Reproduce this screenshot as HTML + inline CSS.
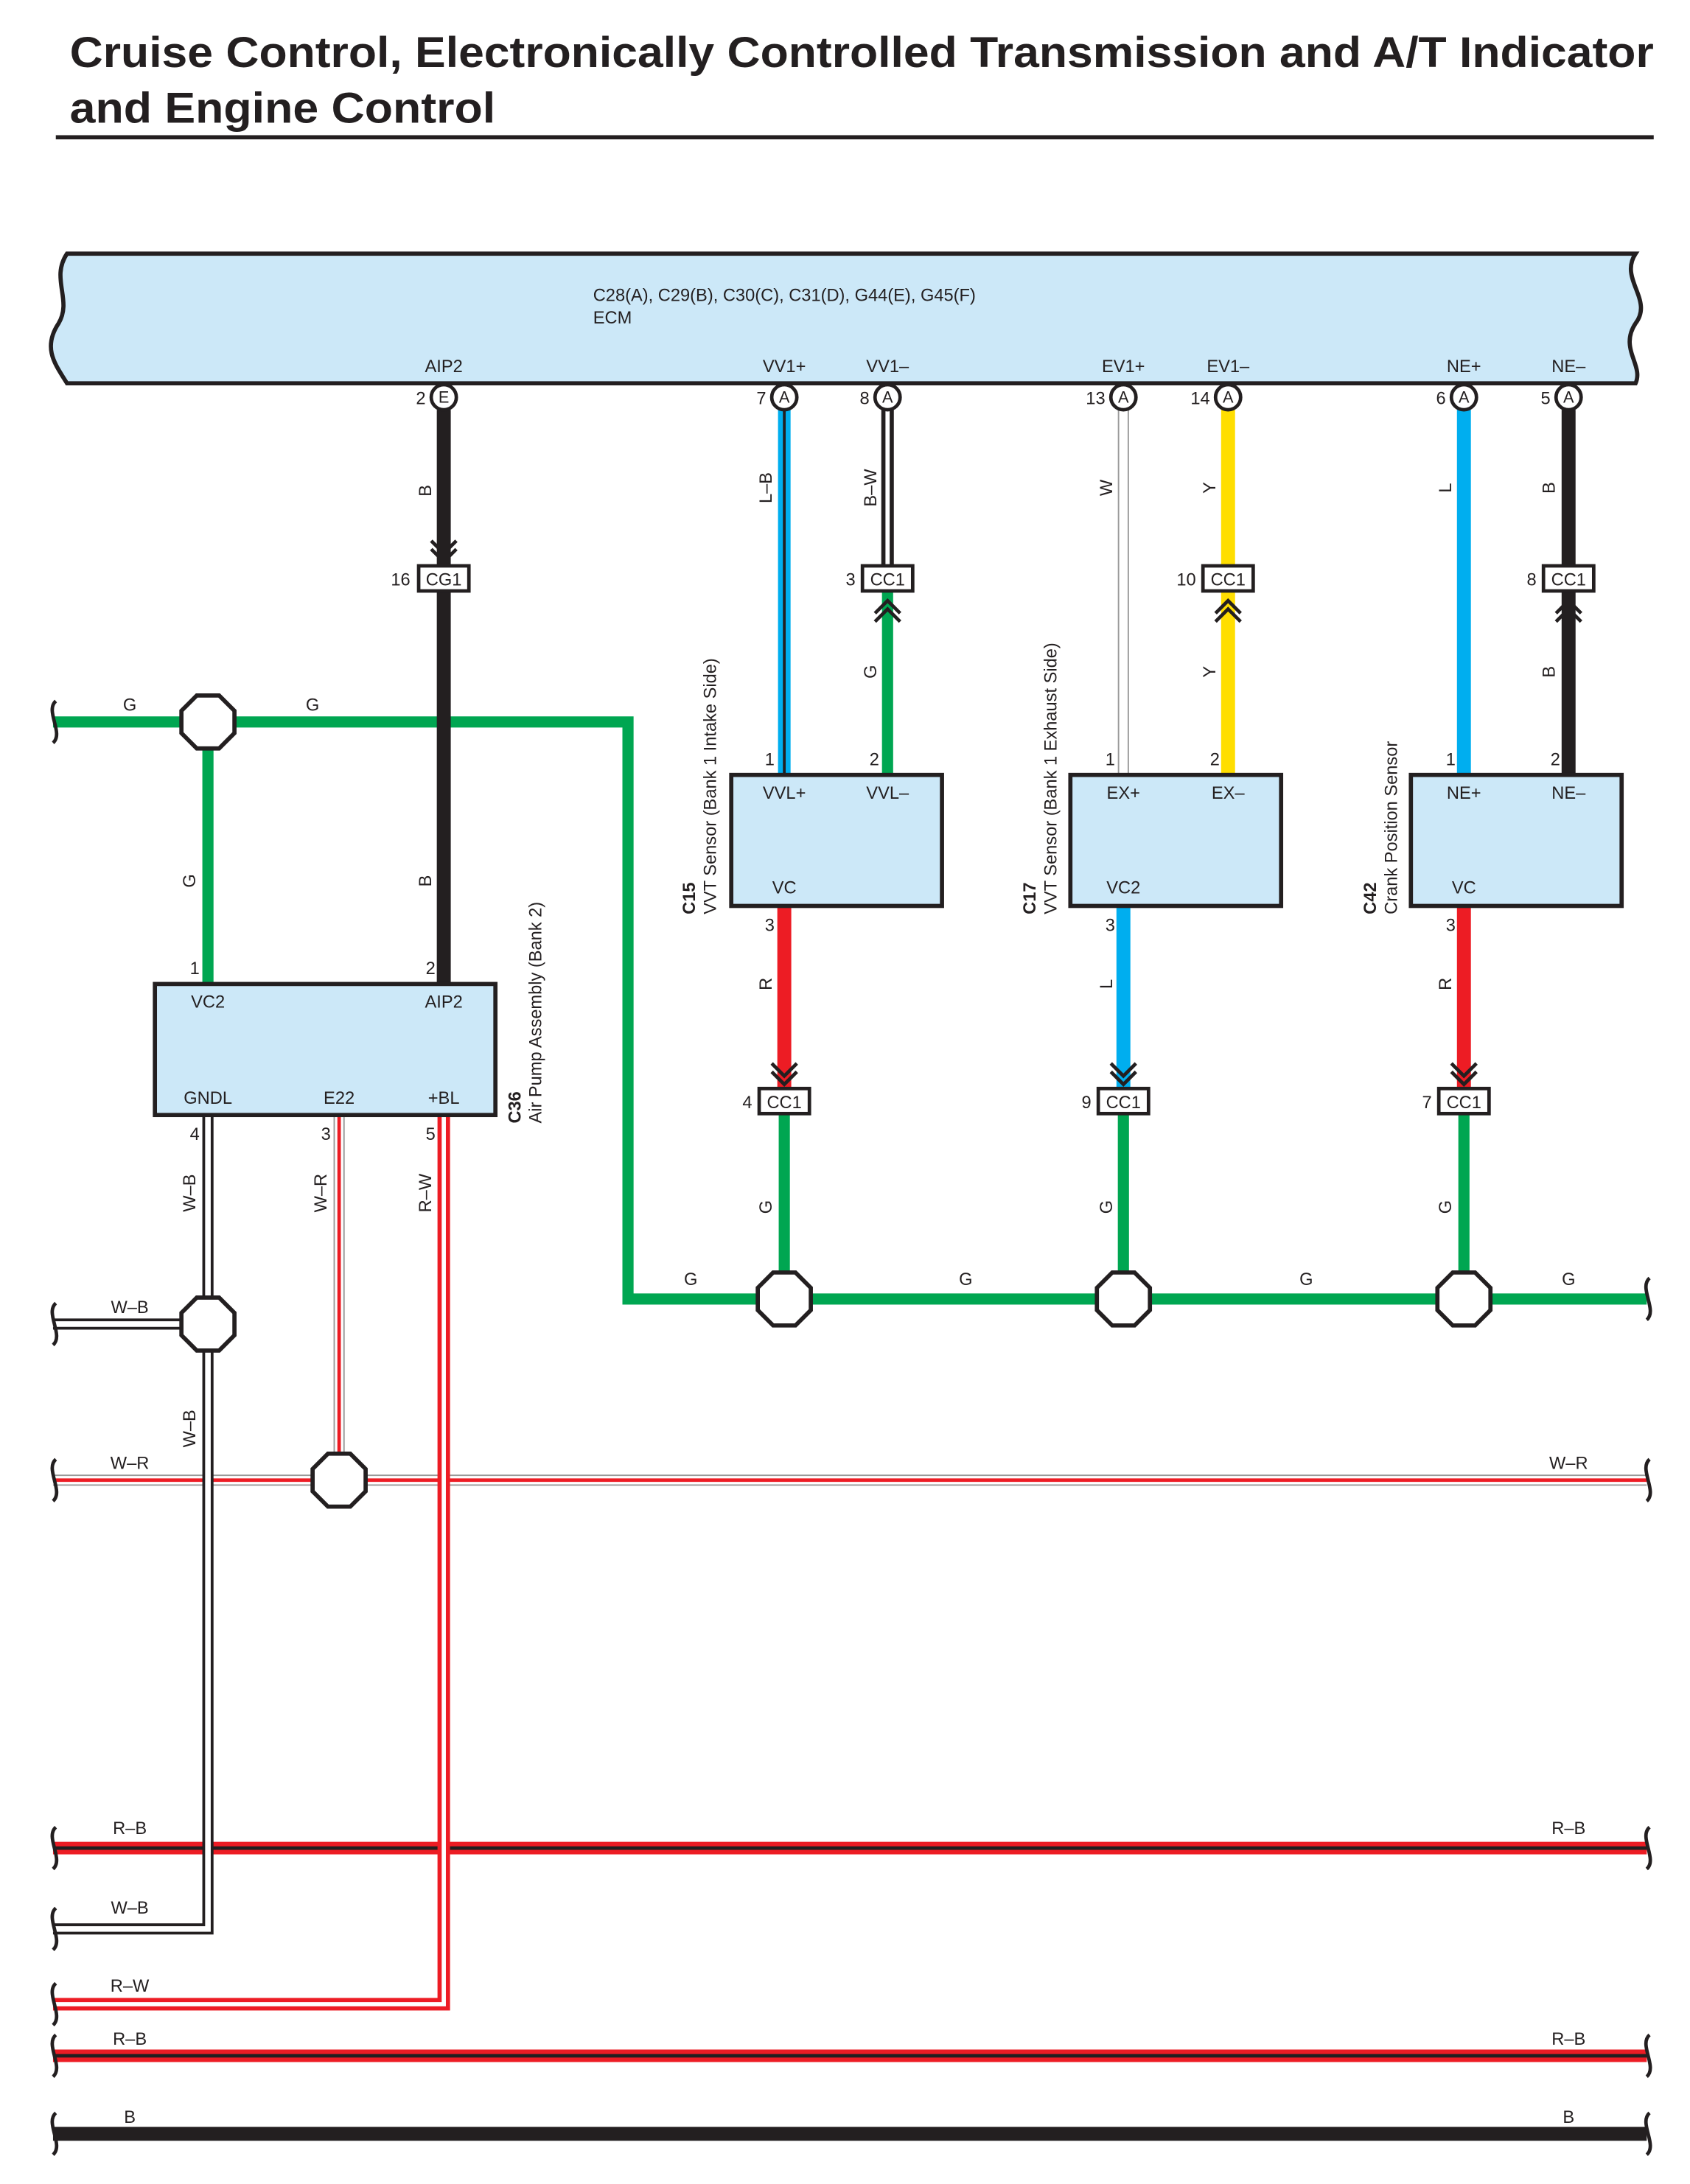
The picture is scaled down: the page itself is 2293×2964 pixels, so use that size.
<!DOCTYPE html>
<html><head><meta charset="utf-8"><style>
html,body{margin:0;padding:0;background:#fff}
svg{display:block}
text{font-family:"Liberation Sans",Arial,sans-serif;fill:#231f20}
.t{font-size:12.5px}
.s{font-size:11.5px}
</style></head><body>
<svg width="2293" height="2964" viewBox="0 0 1211 1567" preserveAspectRatio="none" xmlns="http://www.w3.org/2000/svg">
<defs>
<g id="oct"><polygon points="-8,-19 8,-19 19,-8 19,8 8,19 -8,19 -19,8 -19,-8" fill="#fff" stroke="#231f20" stroke-width="3"/></g>
<g id="pin"><circle r="9" fill="#fff" stroke="#231f20" stroke-width="2.5"/></g>
</defs>
<text x="50" y="48" textLength="1135" lengthAdjust="spacingAndGlyphs" style="font-size:31px;font-weight:bold">Cruise Control, Electronically Controlled Transmission and A/T Indicator</text>
<text x="50" y="88" textLength="305" lengthAdjust="spacingAndGlyphs" style="font-size:31px;font-weight:bold">and Engine Control</text>
<rect x="40" y="97" width="1145" height="3" fill="#231f20"/>

<path d="M48,182 L1172,182 C1160,200 1185,215 1172,232 C1160,250 1178,262 1172,275 L48,275 C40,262 30,250 42,232 C52,215 36,200 48,182 Z" fill="#cce8f8" stroke="#231f20" stroke-width="3"/>
<text x="425" y="216" class="t">C28(A), C29(B), C30(C), C31(D), G44(E), G45(F)</text>
<text x="425" y="232" class="t">ECM</text>
<g class="t" text-anchor="middle">
<text x="318" y="267">AIP2</text><text x="562" y="267">VV1+</text><text x="636" y="267">VV1–</text>
<text x="805" y="267">EV1+</text><text x="880" y="267">EV1–</text><text x="1049" y="267">NE+</text><text x="1124" y="267">NE–</text>
</g>

<g stroke="#00a651" stroke-width="8" fill="none">
<polyline points="38,518 450,518 450,932 1180,932"/>
<line x1="149" y1="518" x2="149" y2="706"/>
<line x1="636" y1="424" x2="636" y2="556"/>
<line x1="562" y1="800" x2="562" y2="932"/>
<line x1="805" y1="800" x2="805" y2="932"/>
<line x1="1049" y1="800" x2="1049" y2="932"/>
</g>

<g fill="none">
<line x1="38" y1="1062" x2="1180" y2="1062" stroke="#999" stroke-width="8"/>
<line x1="38" y1="1062" x2="1180" y2="1062" stroke="#fff" stroke-width="6"/>
<line x1="38" y1="1062" x2="1180" y2="1062" stroke="#ed1c24" stroke-width="2.5"/>
<line x1="38" y1="1326" x2="1180" y2="1326" stroke="#ed1c24" stroke-width="9"/>
<line x1="38" y1="1326" x2="1180" y2="1326" stroke="#231f20" stroke-width="2.5"/>
<line x1="38" y1="1475" x2="1180" y2="1475" stroke="#ed1c24" stroke-width="9"/>
<line x1="38" y1="1475" x2="1180" y2="1475" stroke="#231f20" stroke-width="2.5"/>
<line x1="38" y1="1531" x2="1180" y2="1531" stroke="#231f20" stroke-width="10"/>
<polyline points="149,800 149,1384 38,1384" stroke="#231f20" stroke-width="8"/>
<polyline points="149,800 149,1384 38,1384" stroke="#fff" stroke-width="4"/>
<line x1="38" y1="950" x2="149" y2="950" stroke="#231f20" stroke-width="8"/>
<line x1="38" y1="950" x2="149" y2="950" stroke="#fff" stroke-width="4"/>
<line x1="243" y1="800" x2="243" y2="1062" stroke="#999" stroke-width="8"/>
<line x1="243" y1="800" x2="243" y2="1062" stroke="#fff" stroke-width="6"/>
<line x1="243" y1="800" x2="243" y2="1062" stroke="#ed1c24" stroke-width="2.5"/>
<polyline points="318,800 318,1438 38,1438" stroke="#ed1c24" stroke-width="9"/>
<polyline points="318,800 318,1438 38,1438" stroke="#fff" stroke-width="3"/>
</g>

<g fill="none">
<line x1="318" y1="294" x2="318" y2="706" stroke="#231f20" stroke-width="10"/>
<line x1="562" y1="294" x2="562" y2="556" stroke="#00aeef" stroke-width="9"/>
<line x1="562" y1="294" x2="562" y2="556" stroke="#231f20" stroke-width="2"/>
<line x1="636" y1="294" x2="636" y2="406" stroke="#231f20" stroke-width="9"/>
<line x1="636" y1="294" x2="636" y2="406" stroke="#fff" stroke-width="3"/>
<line x1="805" y1="294" x2="805" y2="556" stroke="#999" stroke-width="8"/>
<line x1="805" y1="294" x2="805" y2="556" stroke="#fff" stroke-width="6"/>
<line x1="880" y1="294" x2="880" y2="556" stroke="#ffde00" stroke-width="10"/>
<line x1="1049" y1="294" x2="1049" y2="556" stroke="#00aeef" stroke-width="10"/>
<line x1="1124" y1="294" x2="1124" y2="556" stroke="#231f20" stroke-width="10"/>
<line x1="562" y1="650" x2="562" y2="782" stroke="#ed1c24" stroke-width="10"/>
<line x1="805" y1="650" x2="805" y2="782" stroke="#00aeef" stroke-width="10"/>
<line x1="1049" y1="650" x2="1049" y2="782" stroke="#ed1c24" stroke-width="10"/>
</g>

<g fill="none" stroke="#231f20" stroke-width="2.5">
<polyline points="309,388 318,397 327,388"/><polyline points="309,394 318,403 327,394"/>
<polyline points="627,440 636,431 645,440"/><polyline points="627,446 636,437 645,446"/>
<polyline points="871,440 880,431 889,440"/><polyline points="871,446 880,437 889,446"/>
<polyline points="1115,440 1124,431 1133,440"/><polyline points="1115,446 1124,437 1133,446"/>
<polyline points="553,763 562,772 571,763"/><polyline points="553,769 562,778 571,769"/>
<polyline points="796,763 805,772 814,763"/><polyline points="796,769 805,778 814,769"/>
<polyline points="1040,763 1049,772 1058,763"/><polyline points="1040,769 1049,778 1058,769"/>
</g>

<use href="#pin" x="318" y="285"/><use href="#pin" x="562" y="285"/><use href="#pin" x="636" y="285"/>
<use href="#pin" x="805" y="285"/><use href="#pin" x="880" y="285"/><use href="#pin" x="1049" y="285"/><use href="#pin" x="1124" y="285"/>
<g class="s" text-anchor="middle">
<text x="318" y="289">E</text><text x="562" y="289">A</text><text x="636" y="289">A</text><text x="805" y="289">A</text>
<text x="880" y="289">A</text><text x="1049" y="289">A</text><text x="1124" y="289">A</text>
</g>
<g class="t" text-anchor="end">
<text x="305" y="290">2</text><text x="549" y="290">7</text><text x="623" y="290">8</text><text x="792" y="290">13</text>
<text x="867" y="290">14</text><text x="1036" y="290">6</text><text x="1111" y="290">5</text>
<text x="294" y="420">16</text><text x="613" y="420">3</text><text x="857" y="420">10</text><text x="1101" y="420">8</text>
<text x="539" y="795">4</text><text x="782" y="795">9</text><text x="1026" y="795">7</text>
</g>

<g fill="#fff" stroke="#231f20" stroke-width="2.5">
<rect x="300" y="406" width="36" height="18"/><rect x="618" y="406" width="36" height="18"/>
<rect x="862" y="406" width="36" height="18"/><rect x="1106" y="406" width="36" height="18"/>
<rect x="544" y="781" width="36" height="18"/><rect x="787" y="781" width="36" height="18"/><rect x="1031" y="781" width="36" height="18"/>
</g>
<g class="t" text-anchor="middle">
<text x="318" y="420">CG1</text><text x="636" y="420">CC1</text><text x="880" y="420">CC1</text><text x="1124" y="420">CC1</text>
<text x="562" y="795">CC1</text><text x="805" y="795">CC1</text><text x="1049" y="795">CC1</text>
</g>

<g fill="#cce8f8" stroke="#231f20" stroke-width="3">
<rect x="111" y="706" width="244" height="94"/>
<rect x="524" y="556" width="151" height="94"/>
<rect x="767" y="556" width="151" height="94"/>
<rect x="1011" y="556" width="151" height="94"/>
</g>
<g class="t" text-anchor="middle">
<text x="149" y="723">VC2</text><text x="318" y="723">AIP2</text>
<text x="149" y="792">GNDL</text><text x="243" y="792">E22</text><text x="318" y="792">+BL</text>
<text x="562" y="573">VVL+</text><text x="636" y="573">VVL–</text><text x="562" y="641">VC</text>
<text x="805" y="573">EX+</text><text x="880" y="573">EX–</text><text x="805" y="641">VC2</text>
<text x="1049" y="573">NE+</text><text x="1124" y="573">NE–</text><text x="1049" y="641">VC</text>
</g>
<g class="t" text-anchor="end">
<text x="143" y="699">1</text><text x="312" y="699">2</text>
<text x="143" y="818">4</text><text x="237" y="818">3</text><text x="312" y="818">5</text>
<text x="555" y="549">1</text><text x="630" y="549">2</text><text x="555" y="668">3</text>
<text x="799" y="549">1</text><text x="874" y="549">2</text><text x="799" y="668">3</text>
<text x="1043" y="549">1</text><text x="1118" y="549">2</text><text x="1043" y="668">3</text>
</g>

<g class="t">
<text transform="translate(373,806) rotate(-90)" style="font-weight:bold">C36</text>
<text transform="translate(388,806) rotate(-90)">Air Pump Assembly (Bank 2)</text>
<text transform="translate(498,656) rotate(-90)" style="font-weight:bold">C15</text>
<text transform="translate(513,656) rotate(-90)">VVT Sensor (Bank 1 Intake Side)</text>
<text transform="translate(742,656) rotate(-90)" style="font-weight:bold">C17</text>
<text transform="translate(757,656) rotate(-90)">VVT Sensor (Bank 1 Exhaust Side)</text>
<text transform="translate(986,656) rotate(-90)" style="font-weight:bold">C42</text>
<text transform="translate(1001,656) rotate(-90)">Crank Position Sensor</text>
</g>

<use href="#oct" x="149" y="518"/><use href="#oct" x="149" y="950"/><use href="#oct" x="243" y="1062"/>
<use href="#oct" x="562" y="932"/><use href="#oct" x="805" y="932"/><use href="#oct" x="1049" y="932"/>

<g class="t" text-anchor="middle">
<text transform="translate(309,352) rotate(-90)">B</text>
<text transform="translate(553,350) rotate(-90)">L–B</text>
<text transform="translate(628,350) rotate(-90)">B–W</text>
<text transform="translate(797,350) rotate(-90)">W</text>
<text transform="translate(871,350) rotate(-90)">Y</text>
<text transform="translate(1040,350) rotate(-90)">L</text>
<text transform="translate(1114,350) rotate(-90)">B</text>
<text transform="translate(628,482) rotate(-90)">G</text>
<text transform="translate(871,482) rotate(-90)">Y</text>
<text transform="translate(1114,482) rotate(-90)">B</text>
<text transform="translate(140,632) rotate(-90)">G</text>
<text transform="translate(309,632) rotate(-90)">B</text>
<text transform="translate(553,706) rotate(-90)">R</text>
<text transform="translate(797,706) rotate(-90)">L</text>
<text transform="translate(1040,706) rotate(-90)">R</text>
<text transform="translate(553,866) rotate(-90)">G</text>
<text transform="translate(797,866) rotate(-90)">G</text>
<text transform="translate(1040,866) rotate(-90)">G</text>
<text transform="translate(140,856) rotate(-90)">W–B</text>
<text transform="translate(234,856) rotate(-90)">W–R</text>
<text transform="translate(309,856) rotate(-90)">R–W</text>
<text transform="translate(140,1025) rotate(-90)">W–B</text>
</g>
<g class="t" text-anchor="middle">
<text x="93" y="510">G</text><text x="224" y="510">G</text>
<text x="495" y="922">G</text><text x="692" y="922">G</text><text x="936" y="922">G</text><text x="1124" y="922">G</text>
<text x="93" y="942">W–B</text>
<text x="93" y="1054">W–R</text><text x="1124" y="1054">W–R</text>
<text x="93" y="1316">R–B</text><text x="1124" y="1316">R–B</text>
<text x="93" y="1373">W–B</text>
<text x="93" y="1429">R–W</text>
<text x="93" y="1467">R–B</text><text x="1124" y="1467">R–B</text>
<text x="93" y="1523">B</text><text x="1124" y="1523">B</text>
</g>

<g fill="none" stroke="#231f20" stroke-width="2.5">
<path d="M40,503 C32,510 46,526 38,533"/>
<path d="M40,935 C32,942 46,958 38,965"/>
<path d="M40,1047 C32,1054 46,1070 38,1077"/>
<path d="M40,1311 C32,1318 46,1334 38,1341"/>
<path d="M40,1369 C32,1376 46,1392 38,1399"/>
<path d="M40,1423 C32,1430 46,1446 38,1453"/>
<path d="M40,1460 C32,1467 46,1483 38,1490"/>
<path d="M40,1516 C32,1523 46,1539 38,1546"/>
<path d="M1182,917 C1174,924 1188,940 1180,947"/>
<path d="M1182,1047 C1174,1054 1188,1070 1180,1077"/>
<path d="M1182,1311 C1174,1318 1188,1334 1180,1341"/>
<path d="M1182,1460 C1174,1467 1188,1483 1180,1490"/>
<path d="M1182,1516 C1174,1523 1188,1539 1180,1546"/>
</g>
</svg>
</body></html>
